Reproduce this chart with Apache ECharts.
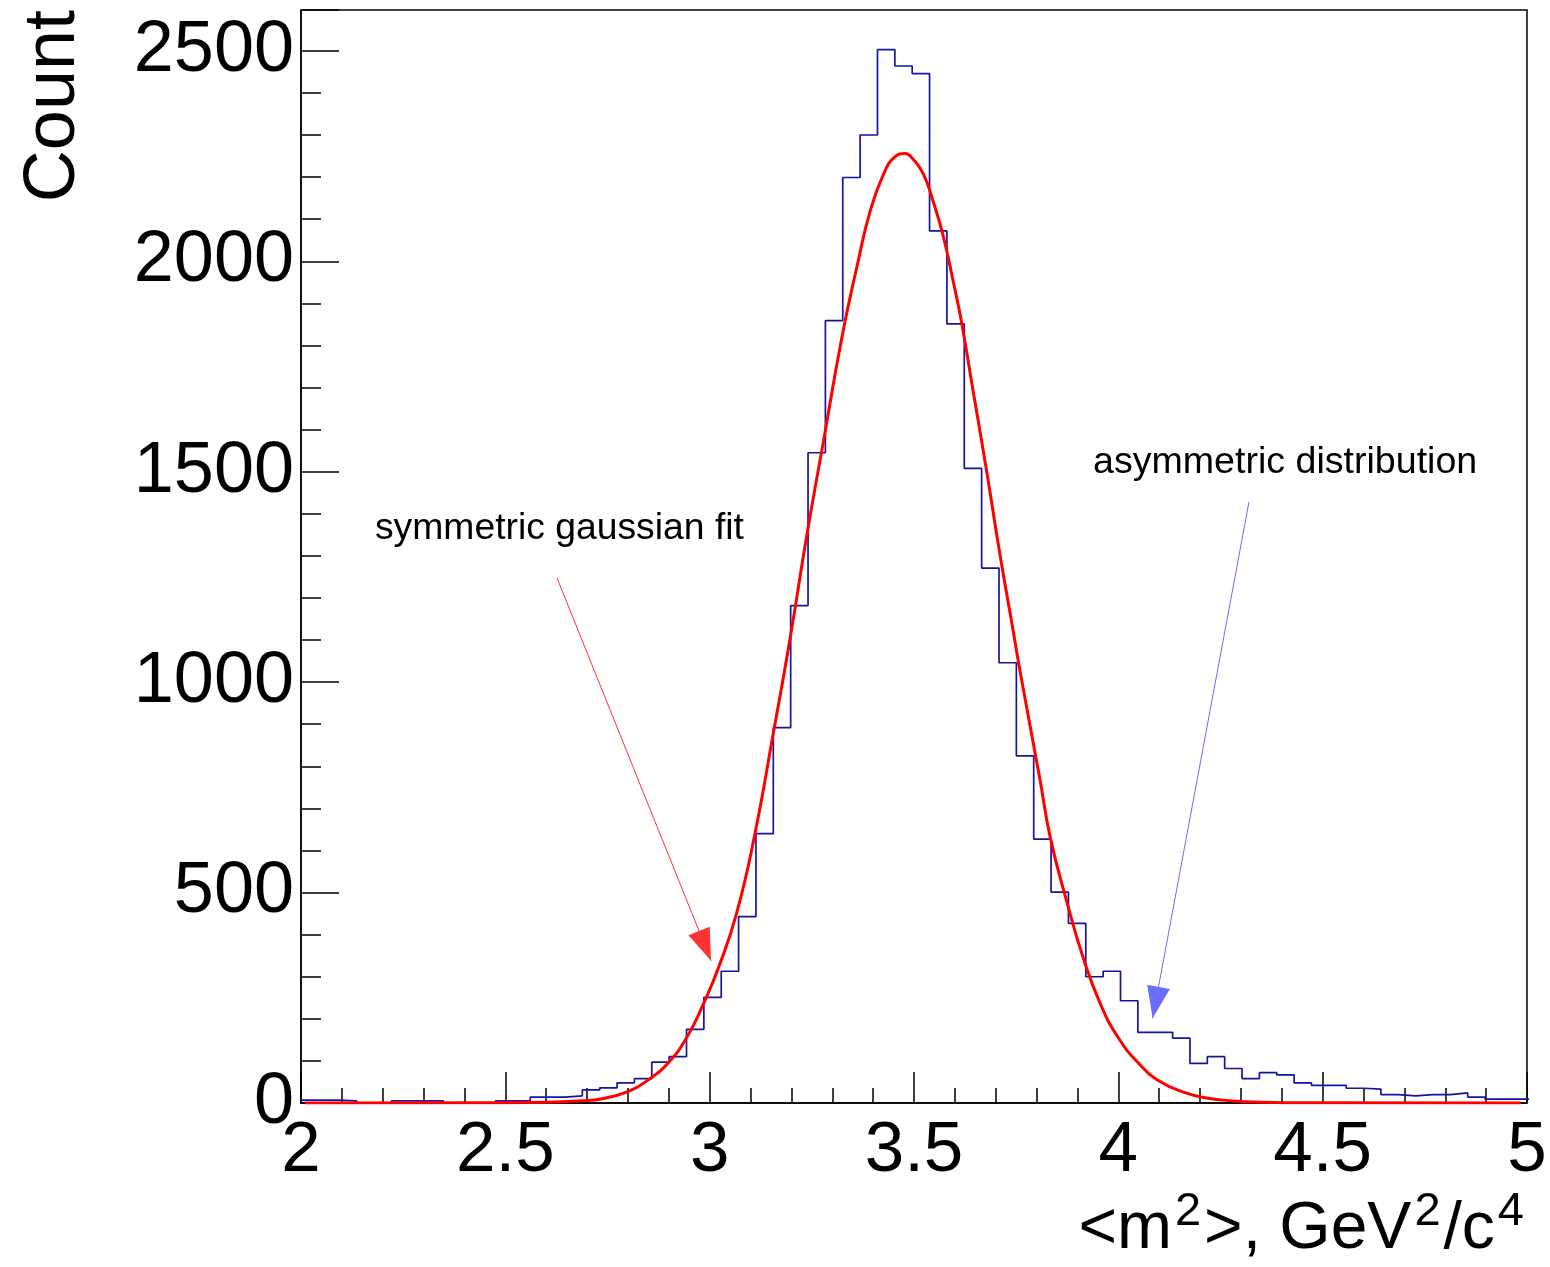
<!DOCTYPE html>
<html>
<head>
<meta charset="utf-8">
<script src="https://cdn.jsdelivr.net/npm/echarts@6/dist/echarts.min.js"></script>
<style>
html,body{margin:0;padding:0;background:#fff;}
#chart{width:1550px;height:1267px;}
</style>
</head>
<body>
<div id="chart"></div>
<script>
// ---- Data ----
// Histogram: regular bins, first low edge and width (in GeV^2/c^4)
var binStart = 1.9663;
var binWidth = 0.04248;
var binCounts = [
  7, 7, 7, 5, 0, 0, 5, 5, 5, 0,
  0, 0, 5, 5, 14, 14, 17, 31, 36, 48,
  58, 97, 110, 175, 251, 313, 443, 640, 892, 1182,
  1545, 1859, 2199, 2300, 2503, 2464, 2446, 2072, 1851, 1508,
  1271, 1046, 825, 627, 501, 427, 300, 313, 243, 168,
  168, 154, 94, 110, 82, 58, 72, 67, 48, 42,
  42, 35, 33, 20, 17, 20, 20, 24, 14, 9,
  9, 9
];
// Gaussian fit curve
var fitX = [2.01, 2.5, 2.6, 2.7, 2.73, 2.8, 2.85, 2.9, 2.944, 2.985, 3.021, 3.066, 3.111, 3.156, 3.197, 3.237, 3.278, 3.323, 3.364, 3.392, 3.425, 3.453, 3.478, 3.498, 3.523, 3.547, 3.572, 3.596, 3.615, 3.645, 3.678, 3.71, 3.743, 3.759, 3.808, 3.833, 3.874, 3.914, 3.955, 4.0, 4.053, 4.102, 4.159, 4.216, 4.281, 4.35, 4.45, 4.985];
var fitY = [0, 0.3, 1.5, 6, 9, 27, 55, 97, 156, 236, 320, 451, 641, 880, 1105, 1345, 1570, 1816, 2003, 2116, 2206, 2248, 2256, 2242, 2207, 2142, 2058, 1952, 1862, 1690, 1500, 1305, 1120, 1029, 770, 633, 478, 345, 238, 155, 91, 51, 26, 12, 5, 2, 0.5, 0];
// Axis ranges and ticks
var xMin = 2, xMax = 5, xMajor = 0.5;
var yMin = 0, yMax = 2597, yMajor = 500, yMinor = 100;
// Annotations (data coordinates)
var redArrow = [[2.6264, 1247.6], [3.0033, 338.2]];
var blueArrow = [[4.3197, 1428], [4.084, 201.3]];
var redText = {text: 'symmetric gaussian fit', at: [2.181, 1364]};
var blueText = {text: 'asymmetric distribution', at: [3.938, 1521]};
var xTitleParts = ['<m', '2', '>, GeV', '2', '/c', '4'];
var yTitle = 'Count';

// ---- Build series data ----
var histPts = binCounts.map(function (c, i) { return [binStart + i * binWidth, c]; });
histPts.push([binStart + binCounts.length * binWidth, binCounts[binCounts.length - 1]]);
var fitPts = fitX.map(function (x, i) { return [x, fitY[i]]; });
var xTitleRich = xTitleParts.map(function (p, i) { return (i % 2 ? '{s|' : '{a|') + p + '}'; }).join('');

var FONT = 'Liberation Sans, Arial, Helvetica, sans-serif';
var chart = echarts.init(document.getElementById('chart'), null, {renderer: 'canvas'});
function isMult(v, m) { return Math.abs(v / m - Math.round(v / m)) < 1e-6; }

chart.setOption({
  animation: false,
  backgroundColor: '#fff',
  grid: {left: 301, right: 23, top: 10, bottom: 164, show: true, borderColor: '#000', borderWidth: 1.5},
  xAxis: [{
    type: 'value', min: xMin, max: xMax, interval: xMajor, position: 'bottom',
    axisLine: {show: true, onZero: false, lineStyle: {color: '#000', width: 1.5}},
    axisTick: {show: true, inside: true, length: 31, lineStyle: {color: '#000', width: 1.5}},
    minorTick: {show: true, splitNumber: 5, length: 15, lineStyle: {color: '#000', width: 1.5}},
    splitLine: {show: false},
    axisLabel: {show: true, margin: 13, fontFamily: FONT, fontSize: 71, color: '#000',
      formatter: function (v) { return String(+v.toFixed(2)); }}
  }],
  yAxis: [{
    type: 'value', min: yMin, max: yMax, interval: yMinor, position: 'left',
    axisLine: {show: true, onZero: false, lineStyle: {color: '#000', width: 1.5}},
    axisTick: {show: true, inside: true, length: 20, lineStyle: {color: '#000', width: 1.5}},
    splitLine: {show: false},
    axisLabel: {show: true, margin: 7, fontFamily: FONT, fontSize: 72, color: '#000', padding: [6, 0, 0, 0],
      formatter: function (v) { return isMult(v, yMajor) ? String(v) : ''; }}
  }, {
    type: 'value', min: yMin, max: yMax, interval: yMajor, position: 'left',
    axisLine: {show: false},
    axisTick: {show: true, inside: true, length: 38, lineStyle: {color: '#000', width: 1.5}},
    splitLine: {show: false},
    axisLabel: {show: false}
  }],
  series: [{
    name: 'histogram', type: 'line', step: 'end', data: histPts,
    xAxisIndex: 0, yAxisIndex: 0, symbol: 'none', clip: true,
    lineStyle: {color: '#1515a0', width: 1.7}, z: 3
  }, {
    name: 'gaussian fit', type: 'line', smooth: 0.5, data: fitPts,
    xAxisIndex: 0, yAxisIndex: 0, symbol: 'none', clip: true,
    lineStyle: {color: '#ff0000', width: 3}, z: 4
  }, {
    name: 'annotations', type: 'line', data: [], xAxisIndex: 0, yAxisIndex: 0, symbol: 'none',
    markLine: {
      silent: true, symbol: ['none', 'triangle'], symbolSize: [23, 32],
      symbolOffset: [[0, 0], [0, 16]],
      label: {show: false},
      data: [
        [{coord: redArrow[0], lineStyle: {color: '#ff3333', width: 1, type: 'solid'}, itemStyle: {color: '#ff3333'}},
         {coord: redArrow[1]}],
        [{coord: blueArrow[0], lineStyle: {color: '#6b6bff', width: 1, type: 'solid'}, itemStyle: {color: '#6b6bff'}},
         {coord: blueArrow[1]}]
      ]
    },
    markPoint: {
      silent: true, symbol: 'circle', symbolSize: 0,
      data: [
        {coord: redText.at, label: {show: true, formatter: redText.text, position: 'right', distance: 0, fontFamily: FONT, fontSize: 37.3, color: '#000'}},
        {coord: blueText.at, label: {show: true, formatter: blueText.text, position: 'right', distance: 0, fontFamily: FONT, fontSize: 37.6, color: '#000'}}
      ]
    }
  }],
  graphic: [{
    type: 'text', x: 54, y: 10, rotation: Math.PI / 2,
    style: {text: yTitle, font: '72px ' + FONT, fill: '#000', align: 'right', verticalAlign: 'middle'}
  }, {
    type: 'text', x: 1527, y: 1189,
    style: {
      text: xTitleRich, fill: '#000', align: 'right', verticalAlign: 'top',
      rich: {
        a: {fontFamily: FONT, fontSize: 66, color: '#000', verticalAlign: 'bottom'},
        s: {fontFamily: FONT, fontSize: 47, color: '#000', verticalAlign: 'bottom', padding: [0, 3, 27, 3]}
      }
    }
  }]
});
</script>
</body>
</html>
